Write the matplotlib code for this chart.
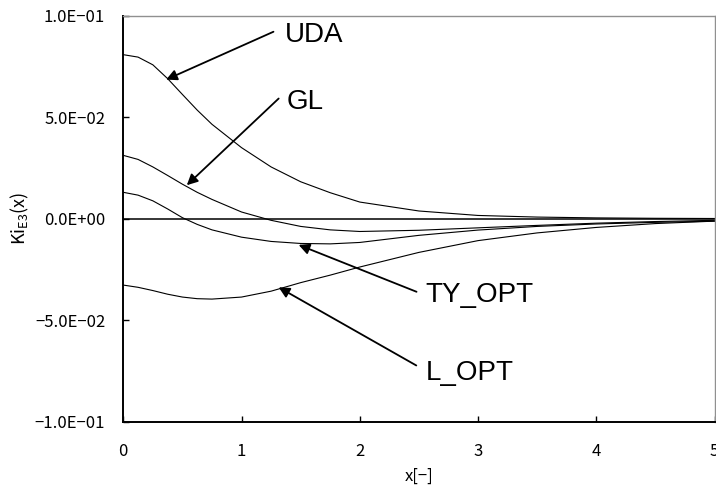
import matplotlib
matplotlib.use("Agg")
import matplotlib.pyplot as plt

# ============================================================
# DATA
# ============================================================
x_vals = [0.0, 0.125, 0.25, 0.375, 0.5, 0.625, 0.75, 1.0, 1.25, 1.5, 1.75, 2.0, 2.5, 3.0, 3.5, 4.0, 4.5, 5.0]

uda    = [0.0808, 0.0796, 0.0758, 0.0690, 0.0612, 0.0535, 0.0465, 0.0350, 0.0255, 0.0182, 0.0128, 0.0082, 0.0038, 0.0016, 0.0008, 0.0004, 0.0002, 0.0001]
gl     = [0.0312, 0.0292, 0.0255, 0.0213, 0.0170, 0.0130, 0.0095, 0.0033, -0.0008, -0.0038, -0.0055, -0.0063, -0.0057, -0.0045, -0.0033, -0.0022, -0.0014, -0.0008]
ty_opt = [0.0130, 0.0116, 0.0088, 0.0048, 0.0005, -0.0028, -0.0055, -0.0091, -0.0112, -0.0122, -0.0124, -0.0117, -0.0082, -0.0056, -0.0038, -0.0026, -0.0018, -0.0012]
l_opt  = [-0.0327, -0.0338, -0.0354, -0.0372, -0.0386, -0.0394, -0.0396, -0.0386, -0.0357, -0.0315, -0.0278, -0.0238, -0.0166, -0.0108, -0.0070, -0.0043, -0.0024, -0.0012]

x_ticks = [0, 1, 2, 3, 4, 5]
y_ticks = [-0.1, -0.05, 0.0, 0.05, 0.1]
y_tick_labels = ["\u22121.0E\u221201", "\u22125.0E\u221202", "0.0E+00", "5.0E\u221202", "1.0E\u221201"]

# label -> (arrow tip, arrow tail, text position)
labels = {
    "UDA":    ((0.362, 0.0685), (1.27, 0.0921), (1.37, 0.0905)),
    "GL":     ((0.537, 0.0165), (1.314, 0.0592), (1.385, 0.0575)),
    "TY_OPT": ((1.483, -0.0129), (2.48, -0.0360), (2.557, -0.0375)),
    "L_OPT":  ((1.314, -0.0338), (2.478, -0.0723), (2.557, -0.0762)),
}

# ============================================================
# STYLE
# ============================================================
GOTHIC = ["Noto Sans CJK JP", "DejaVu Sans"]
plt.rcParams["mathtext.fontset"] = "custom"
plt.rcParams["mathtext.rm"] = "Noto Sans CJK JP"

fig = plt.figure(figsize=(7.16, 4.90), dpi=100)
ax = fig.add_axes([123.3 / 716, 1 - 421.7 / 490, (714.5 - 123.3) / 716, (421.7 - 15.7) / 490])

for series in (uda, gl, ty_opt, l_opt):
    ax.plot(x_vals, series, color="black", linewidth=0.8)

ax.axhline(0, color="black", linewidth=1.1)

ax.set_xlim(0, 5)
ax.set_ylim(-0.1, 0.1)
ax.set_xticks(x_ticks)
ax.set_xticklabels([str(t) for t in x_ticks], fontfamily=GOTHIC, fontsize=12)
ax.set_yticks(y_ticks)
ax.set_yticklabels(y_tick_labels, fontfamily=GOTHIC, fontsize=12)
ax.tick_params(axis="x", direction="in", length=4, width=1, pad=15)
ax.tick_params(axis="y", direction="in", length=4, width=1, pad=13)

for side in ("left", "bottom"):
    ax.spines[side].set_linewidth(1.4)
    ax.spines[side].set_color("black")
for side in ("top", "right"):
    ax.spines[side].set_linewidth(1.0)
    ax.spines[side].set_color("#909090")

ax.set_xlabel("x[\u2212]", fontfamily=GOTHIC, fontsize=12, labelpad=6)
ax.set_ylabel(r"Ki$_{\mathrm{E3}}$(x)", fontfamily=GOTHIC, fontsize=13, labelpad=3)

# annotations with arrows
for name, (tip, tail, txt) in labels.items():
    ax.annotate("", xy=tip, xytext=tail,
                arrowprops=dict(arrowstyle="-|>", color="black", lw=1.3,
                                mutation_scale=16, shrinkA=0, shrinkB=0))
    ax.text(txt[0], txt[1], name, fontfamily="Liberation Sans", fontsize=20,
            va="center", ha="left")

fig.savefig("out.png", dpi=100)
